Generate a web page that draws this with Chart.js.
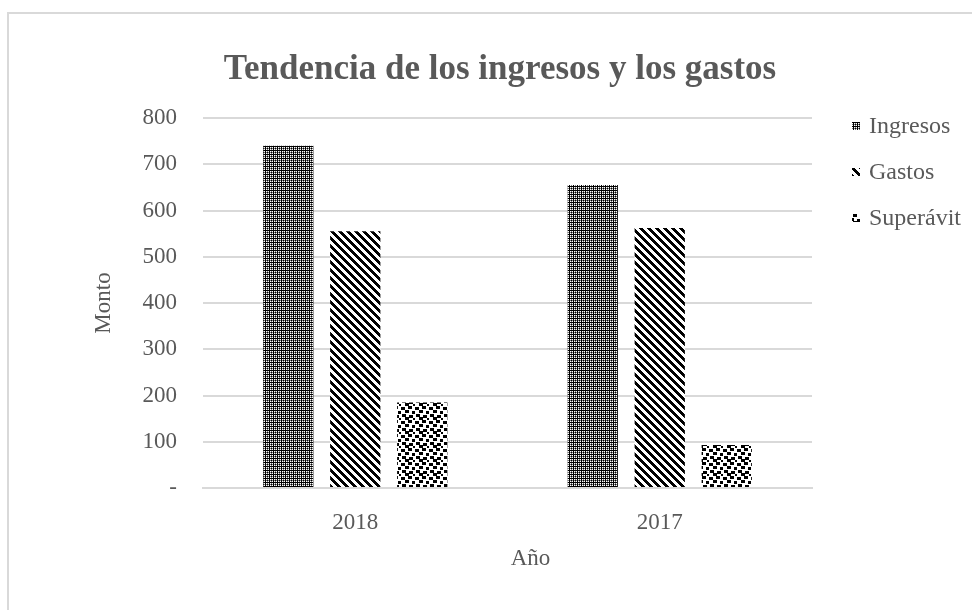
<!DOCTYPE html>
<html>
<head>
<meta charset="utf-8">
<script src="https://cdn.jsdelivr.net/npm/chart.js@4.4.1/dist/chart.umd.min.js"></script>
<style>
  html, body { margin: 0; padding: 0; background: #fff; overflow: hidden; }
  #frame {
    position: absolute; left: 7px; top: 12px;
    width: 980px; height: 610px;
    border-left: 2px solid #d9d9d9; border-top: 2px solid #d9d9d9;
  }
  #wrap { position: absolute; left: 0; top: 0; width: 963px; height: 596px; }
</style>
</head>
<body>
<div id="frame"><div id="wrap"><canvas id="myChart"></canvas></div></div>
<script>
// datos del grafico
const categories = ['2018', '2017'];
const seriesNames = ['Ingresos', 'Gastos', 'Superávit'];
const ingresos = [740, 655];
const gastos = [555, 562];
const superavit = [185, 93];
const yTickValues = [0, 100, 200, 300, 400, 500, 600, 700, 800];

const textColor = '#595959';
const serif = "'Liberation Serif', 'Times New Roman', serif";

// patrones de relleno (estilo Excel)
function makePattern(size, paint) {
    const c = document.createElement('canvas');
    c.width = size; c.height = size;
    const g = c.getContext('2d');
    g.fillStyle = '#fff';
    g.fillRect(0, 0, size, size);
    g.fillStyle = '#000';
    paint(g, size);
    return document.getElementById('myChart').getContext('2d').createPattern(c, 'repeat');
}

// cuadricula punteada
const gridPattern = makePattern(4, function(g) {
    g.fillRect(0, 0, 4, 1);
    g.fillRect(0, 0, 1, 4);
    g.fillRect(2, 2, 1, 1);
    g.fillStyle = '#7a7a7a';
    g.fillRect(2, 1, 1, 1);
    g.fillRect(1, 2, 1, 1);
    g.fillRect(3, 2, 1, 1);
    g.fillRect(2, 3, 1, 1);
});

// diagonal ancha hacia abajo
const diagPattern = makePattern(8, function(g) {
    for (let y = 0; y < 8; y++) {
        for (let x = 0; x < 8; x++) {
            if (((x - y) % 8 + 8) % 8 < 4) g.fillRect(x, y, 1, 1);
        }
    }
});

// confeti grande
const confettiPattern = makePattern(14, function(g) {
    const spots = [[0, 1], [7, 0], [4, 4], [11, 5], [1, 8], [8, 9], [4, 11], [12, 12]];
    spots.forEach(function(p) { g.fillRect(p[0], p[1], 4, 3); });
});

const fills = [gridPattern, diagPattern, confettiPattern];

// leyenda a la derecha
const sideLegend = {
    id: 'sideLegend',
    afterDraw(chart) {
        const ctx = chart.ctx;
        const area = chart.chartArea;
        ctx.save();
        ctx.font = '24px ' + serif;
        ctx.textBaseline = 'middle';
        chart.data.datasets.forEach(function(ds, i) {
            const y = area.top + 8 + i * 46;
            const x = area.right + 40;
            ctx.fillStyle = ds.backgroundColor;
            ctx.fillRect(x, y - 4, 8, 8);
            ctx.fillStyle = textColor;
            ctx.fillText(ds.label, x + 17, y + 1);
        });
        ctx.restore();
    }
};

const ctx = document.getElementById('myChart').getContext('2d');
new Chart(ctx, {
    type: 'bar',
    data: {
        labels: categories,
        datasets: [
            { label: seriesNames[0], data: ingresos, backgroundColor: fills[0] },
            { label: seriesNames[1], data: gastos, backgroundColor: fills[1] },
            { label: seriesNames[2], data: superavit, backgroundColor: fills[2] }
        ]
    },
    options: {
        responsive: true,
        maintainAspectRatio: false,
        animation: false,
        datasets: {
            bar: { categoryPercentage: 0.66, barPercentage: 0.75 }
        },
        layout: { padding: { left: 19, right: 0, top: 0, bottom: 0 } },
        plugins: {
            legend: { display: false },
            tooltip: { enabled: false },
            title: {
                display: true,
                text: 'Tendencia de los ingresos y los gastos',
                color: textColor,
                font: { family: serif, size: 35, weight: 'bold' },
                padding: { top: 35, bottom: 27 }
            }
        },
        scales: {
            x: {
                grid: { display: false, drawTicks: false },
                border: { display: true, color: '#d9d9d9', width: 2 },
                ticks: { color: textColor, font: { family: serif, size: 23 }, padding: 21 },
                title: {
                    display: true,
                    // espacios para desplazar el titulo como en el original
                    text: '\u00a0\u00a0\u00a0\u00a0\u00a0\u00a0\u00a0\u00a0Año',
                    color: textColor,
                    font: { family: serif, size: 23 }, padding: { top: 0, bottom: 37 }
                },
                afterFit: function(scale) { scale.height = 122; }
            },
            y: {
                min: 0,
                max: 800,
                afterBuildTicks: function(axis) {
                    axis.ticks = yTickValues.map(function(v) { return { value: v }; });
                },
                grid: { color: '#d9d9d9', lineWidth: 2, drawTicks: false },
                border: { display: false },
                ticks: {
                    color: textColor,
                    font: { family: serif, size: 23 },
                    padding: 26,
                    callback: function(value) { return value === 0 ? '-' : value; }
                },
                title: {
                    display: true, text: 'Monto', color: textColor,
                    font: { family: serif, size: 23 }, padding: { top: 62, bottom: 0 }
                },
                afterFit: function(scale) { scale.width = 175; }
            },
            // espacio reservado para la leyenda
            legendSpace: {
                type: 'linear',
                position: 'right',
                min: 0,
                max: 1,
                grid: { display: false, drawTicks: false },
                border: { display: false },
                ticks: { display: false },
                afterFit: function(scale) { scale.width = 160; }
            }
        }
    },
    plugins: [sideLegend]
});
</script>
</body>
</html>
